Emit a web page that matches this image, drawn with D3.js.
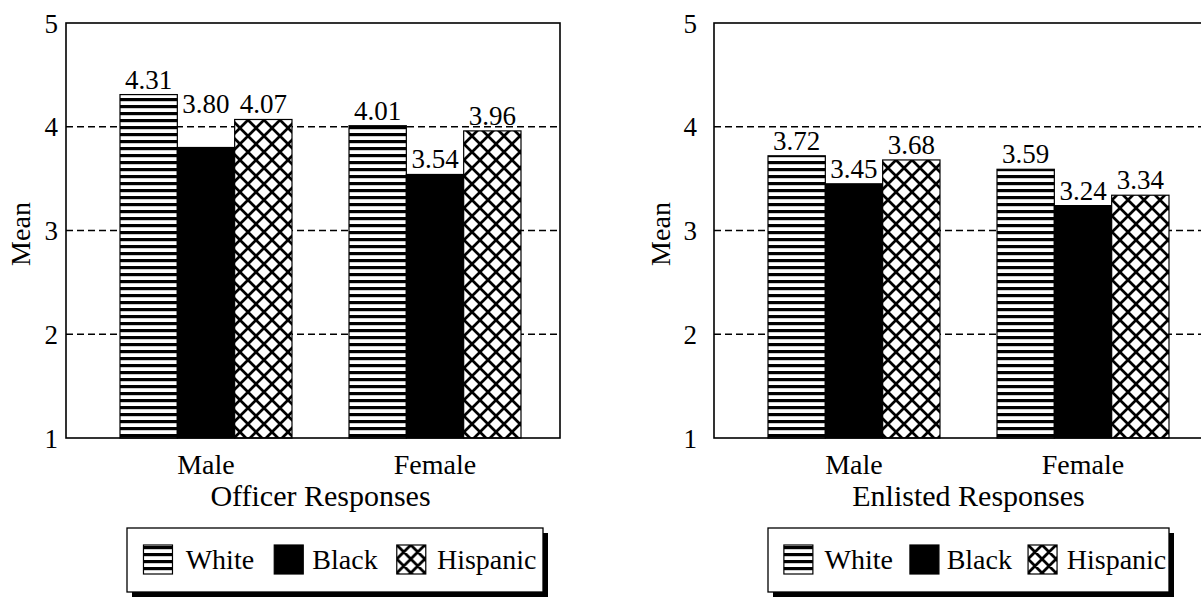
<!DOCTYPE html>
<html>
<head>
<meta charset="utf-8">
<script src="https://cdn.jsdelivr.net/npm/d3@7"></script>
<style>
  html, body { margin: 0; padding: 0; background: #fff; }
  svg { display: block; }
  svg text { font-family: "Liberation Serif", "Times New Roman", "DejaVu Serif", serif !important; fill: #000; }
</style>
</head>
<body>
<svg id="chart" width="1201" height="608" font-family="Liberation Serif, serif"></svg>
<script>
// ---- data ----
const categories = ["Male", "Female"];
const seriesNames = ["White", "Black", "Hispanic"];
const yTicks = [1, 2, 3, 4, 5];
const panelTitles = ["Officer Responses", "Enlisted Responses"];
const officerWhite = [4.31, 4.01];
const officerBlack = [3.80, 3.54];
const officerHispanic = [4.07, 3.96];
const enlistedWhite = [3.72, 3.59];
const enlistedBlack = [3.45, 3.24];
const enlistedHispanic = [3.68, 3.34];

const panelValues = [
  { White: officerWhite, Black: officerBlack, Hispanic: officerHispanic },
  { White: enlistedWhite, Black: enlistedBlack, Hispanic: enlistedHispanic }
];

// ---- layout ----
const svg = d3.select("#chart");
const fmt = d3.format(".2f");
const FONT = "'Liberation Serif', 'Times New Roman', serif";
const panels = [
  { dx: 0, tickGap: 8, meanX: 20, legendX: 127, legendW: 416 },
  { dx: 648, tickGap: 17, meanX: 660, legendX: 768, legendW: 401 }
];
const boxTop = 23, boxBottom = 438;

// patterns
const defs = svg.append("defs");
const stripes = defs.append("pattern").attr("id", "stripes")
  .attr("patternUnits", "userSpaceOnUse").attr("width", 10).attr("height", 7);
stripes.append("rect").attr("width", 10).attr("height", 7).attr("fill", "#fff");
stripes.append("rect").attr("y", 0).attr("width", 10).attr("height", 3.2).attr("fill", "#000");

function crossPattern(id, s, sw, ox, oy) {
  const p = defs.append("pattern").attr("id", id)
    .attr("patternUnits", "userSpaceOnUse").attr("width", s).attr("height", s)
    .attr("x", ox).attr("y", oy);
  p.append("rect").attr("width", s).attr("height", s).attr("fill", "#fff");
  const e = 3;
  p.append("path")
    .attr("d", `M0,0L${s},${s}M${s},0L0,${s}` +
      `M${-e},${s - e}L${e},${s + e}M${s - e},${-e}L${s + e},${e}` +
      `M${-e},${e}L${e},${-e}M${s - e},${s + e}L${s + e},${s - e}`)
    .attr("stroke", "#000").attr("stroke-width", sw).attr("fill", "none");
}
crossPattern("cross", 16, 2.7, 0, 0);

const fills = { White: "url(#stripes)", Black: "#000", Hispanic: "url(#cross)" };

const y = d3.scaleLinear().domain([1, 5]).range([boxBottom, boxTop]);

function txt(g, x, yy, s, size, anchor) {
  return g.append("text").attr("x", x).attr("y", yy)
    .attr("text-anchor", anchor || "start")
    .style("font-family", FONT).style("font-size", size + "px").text(s);
}

panels.forEach((P, pi) => {
  const g = svg.append("g");
  const boxLeft = 66 + P.dx, boxRight = 560 + P.dx;
  const x0 = d3.scaleBand().domain(categories).range([120 + P.dx, 521 + P.dx]).paddingInner(0.249);
  const x1 = d3.scaleBand().domain(seriesNames).range([0, x0.bandwidth()]);
  const vals = panelValues[pi];

  // dashed gridlines for interior ticks
  g.selectAll("line.grid").data(yTicks.filter(t => t > 1 && t < 5)).join("line")
    .attr("x1", boxLeft).attr("x2", boxRight)
    .attr("y1", d => y(d)).attr("y2", d => y(d))
    .attr("stroke", "#000").attr("stroke-width", 1.3).attr("stroke-dasharray", "7,4");

  // axis tick labels via d3 axis
  const axis = d3.axisLeft(y).tickValues(yTicks).tickSize(0).tickPadding(P.tickGap).tickFormat(d3.format("d"));
  const ag = g.append("g").attr("transform", `translate(${boxLeft},0)`).call(axis);
  ag.attr("font-family", null).attr("font-size", null);
  ag.select(".domain").remove();
  ag.selectAll("text").style("font-family", FONT).style("font-size", "27px").attr("dy", "0.34em");

  // bars
  const rows = [];
  categories.forEach((c, ci) => seriesNames.forEach(s => rows.push({ c, s, v: vals[s][ci] })));
  g.selectAll("rect.bar").data(rows).join("rect")
    .attr("x", d => x0(d.c) + x1(d.s))
    .attr("y", d => y(d.v))
    .attr("width", x1.bandwidth())
    .attr("height", d => y(1) - y(d.v))
    .attr("fill", d => fills[d.s])
    .attr("stroke", "#000").attr("stroke-width", 1.2);

  // plot frame
  g.append("rect").attr("x", boxLeft).attr("y", boxTop)
    .attr("width", boxRight - boxLeft).attr("height", boxBottom - boxTop)
    .attr("fill", "none").attr("stroke", "#000").attr("stroke-width", 1.6);

  // value labels
  rows.forEach(d => {
    let ly = y(d.v) - 6;
    // in the officer male group the Black label sits level with the Hispanic label
    if (pi === 0 && d.c === "Male" && d.s === "Black") ly = y(vals.Hispanic[0]) - 6;
    txt(g, x0(d.c) + x1(d.s) + x1.bandwidth() / 2, ly, fmt(d.v), 27, "middle");
  });

  // category labels
  categories.forEach(c => txt(g, x0(c) + x0.bandwidth() / 2, 474, c, 28, "middle"));

  // panel title
  txt(g, (x0.range()[0] + x0.range()[1]) / 2, 506, panelTitles[pi], 30, "middle");

  // y-axis title
  g.append("text").attr("transform", `translate(${P.meanX + 10},${234}) rotate(-90)`)
    .attr("text-anchor", "middle").style("font-family", FONT).style("font-size", "28px").text("Mean");

  // legend
  const lx = P.legendX, ly = 528, lw = P.legendW, lh = 64;
  g.append("rect").attr("x", lx + 5).attr("y", ly + 5).attr("width", lw).attr("height", lh).attr("fill", "#000");
  g.append("rect").attr("x", lx).attr("y", ly).attr("width", lw).attr("height", lh)
    .attr("fill", "#fff").attr("stroke", "#000").attr("stroke-width", 1.3);
  const k = lw / 404;
  const itemX = [16, 143, 262].map(v => v * k);
  const textX = [57, 180, 301].map(v => v * k);
  seriesNames.forEach((s, i) => {
    const sx = lx + itemX[i], sy = ly + 17;
    let f = fills[s];
    if (s === "Hispanic") {
      crossPattern("lcross" + pi, 14, 2.8, sx, sy);
      f = `url(#lcross${pi})`;
    }
    g.append("rect").attr("x", sx).attr("y", sy).attr("width", 29).attr("height", 29)
      .attr("fill", f).attr("stroke", "#000").attr("stroke-width", 1.2);
    txt(g, lx + textX[i], ly + 41, s, 28);
  });
});
</script>
</body>
</html>
